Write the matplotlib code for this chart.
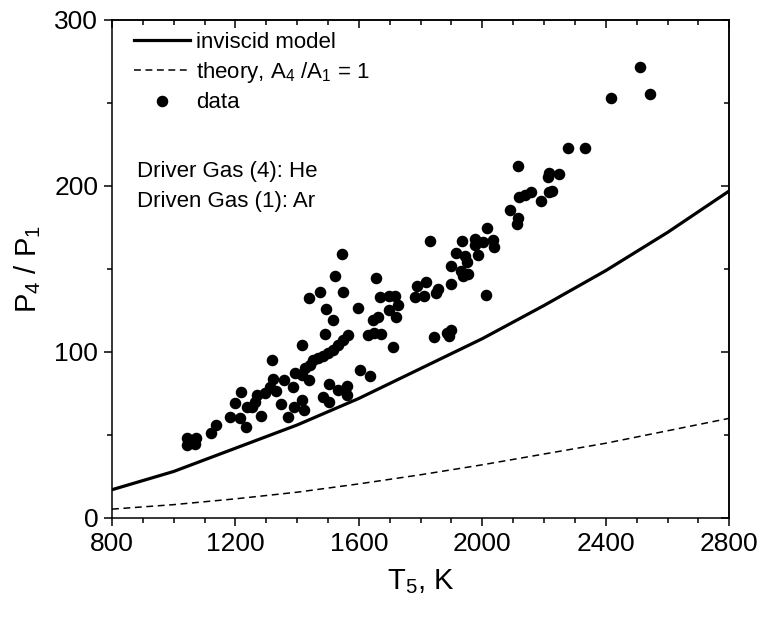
import numpy as np
import matplotlib.pyplot as plt
import matplotlib as mpl
from matplotlib.ticker import MultipleLocator

# style
mpl.rcParams.update({
    "font.family": ["Liberation Sans", "DejaVu Sans"],
    "mathtext.default": "regular",
    "font.size": 16,
    "axes.linewidth": 1.1,
    "xtick.labelsize": 19,
    "ytick.labelsize": 19,
    "axes.labelsize": 21,
})

# model curves, T5 (K) vs P4/P1
t_model = [800, 1000, 1200, 1400, 1600, 1800, 2000, 2200, 2400, 2600, 2800]
p_inviscid = [17, 28, 42, 56, 72, 90, 108, 128, 149, 172, 197]
p_theory = [5.3, 8, 11.5, 15.5, 20.5, 26, 32, 38.5, 45, 52.5, 60]

# measured points
t_data = [1042, 1072, 1042, 1070, 1120, 1138, 1182, 1215, 1233, 1282,
          1198, 1219, 1236, 1252, 1263, 1269, 1296, 1312, 1331, 1322,
          1357, 1317, 1347, 1387, 1393, 1438, 1414, 1425, 1441, 1414,
          1389, 1422, 1415, 1370, 1452, 1468, 1484, 1500, 1516, 1532,
          1548, 1564, 1474, 1439, 1522, 1544, 1492, 1516, 1490, 1548,
          1503, 1532, 1561, 1560, 1485, 1503, 1603, 1636, 1597, 1654,
          1646, 1663, 1629, 1650, 1671, 1709, 1668, 1697, 1717, 1727,
          1699, 1720, 1787, 1819, 1781, 1810, 1856, 1849, 1830, 1900,
          2011, 1844, 1884, 1900, 1892, 1934, 1976, 2003, 2035, 2037,
          1986, 1976, 1914, 1943, 1898, 1949, 1930, 1954, 1938, 2016,
          2091, 2116, 2112, 2191, 2159, 2138, 2118, 2217, 2114, 2215,
          2248, 2279, 2334, 2416, 2511, 2543, 2212, 2225]
p_data = [48.0, 48.0, 44.0, 44.6, 51.4, 55.7, 60.5, 60.2, 55.0, 61.3,
          69.4, 76.1, 67.0, 67.0, 69.9, 74.1, 75.3, 78.9, 76.5, 83.7,
          83.1, 95.2, 68.4, 79.1, 87.2, 83.1, 86.1, 90.4, 92.2, 104.2,
          66.6, 65.1, 71.1, 61.0, 95.2, 96.4, 97.6, 99.4, 101.2, 104.2,
          107.2, 110.2, 136.3, 132.3, 145.8, 159.0, 125.6, 119.3, 110.8, 136.3,
          80.7, 77.1, 79.5, 74.1, 73.1, 69.6, 89.2, 85.5, 126.2, 144.3,
          119.0, 120.9, 110.2, 111.4, 111.1, 103.0, 133.3, 133.4, 133.4, 128.0,
          125.3, 121.3, 139.8, 142.3, 132.8, 133.7, 138.0, 135.5, 166.9, 140.8,
          134.3, 108.9, 111.7, 113.3, 109.5, 166.9, 168.1, 166.0, 167.2, 163.4,
          158.4, 164.5, 159.5, 157.8, 151.9, 154.4, 148.8, 147.0, 145.5, 174.9,
          185.5, 180.5, 176.8, 190.7, 196.6, 194.3, 193.1, 196.4, 211.9, 208.1,
          207.2, 222.9, 222.9, 253.2, 271.9, 255.2, 205.4, 196.7]

fig = plt.figure(figsize=(7.62, 6.24), dpi=100)
ax = fig.add_axes([0.147, 0.170, 0.810, 0.798])

ax.plot(t_model, p_inviscid, color='black', linewidth=2.3, label='inviscid model')
ax.plot(t_model, p_theory, color='black', linewidth=1.1, linestyle=(0, (4.5, 3)),
        label='theory, A$_4$ /A$_1$ = 1')
ax.plot(t_data, p_data, 'o', color='black', markersize=7.3, linestyle='none',
        label='data')

ax.set_xlim(800, 2800)
ax.set_ylim(0, 300)
ax.xaxis.set_major_locator(MultipleLocator(400))
ax.xaxis.set_minor_locator(MultipleLocator(100))
ax.yaxis.set_major_locator(MultipleLocator(100))
ax.yaxis.set_minor_locator(MultipleLocator(50))
ax.tick_params(which='major', direction='out', length=6, width=1.1, pad=4)
ax.tick_params(which='minor', direction='out', length=3.5, width=1.1)

# mirrored inward ticks on top and right
top = ax.secondary_xaxis('top')
top.xaxis.set_major_locator(MultipleLocator(400))
top.xaxis.set_minor_locator(MultipleLocator(100))
top.tick_params(which='major', direction='in', length=6, width=1.1, labeltop=False)
top.tick_params(which='minor', direction='in', length=3.5, width=1.1)
right = ax.secondary_yaxis('right')
right.yaxis.set_major_locator(MultipleLocator(100))
right.yaxis.set_minor_locator(MultipleLocator(50))
right.tick_params(which='major', direction='in', length=6, width=1.1, labelright=False)
right.tick_params(which='minor', direction='in', length=3.5, width=1.1)

ax.set_xlabel('T$_5$, K', labelpad=8)
ax.set_ylabel('P$_4$ / P$_1$', labelpad=8)

ax.legend(loc='upper left', bbox_to_anchor=(0.025, 0.99), frameon=False,
          fontsize=16, handlelength=2.5, handletextpad=0.3, labelspacing=0.33,
          borderaxespad=0.0, borderpad=0.3)

ax.text(0.04, 0.695, 'Driver Gas (4): He', transform=ax.transAxes,
        fontsize=16, va='center')
ax.text(0.04, 0.635, 'Driven Gas (1): Ar', transform=ax.transAxes,
        fontsize=16, va='center')

plt.savefig('out.png', dpi=100)
